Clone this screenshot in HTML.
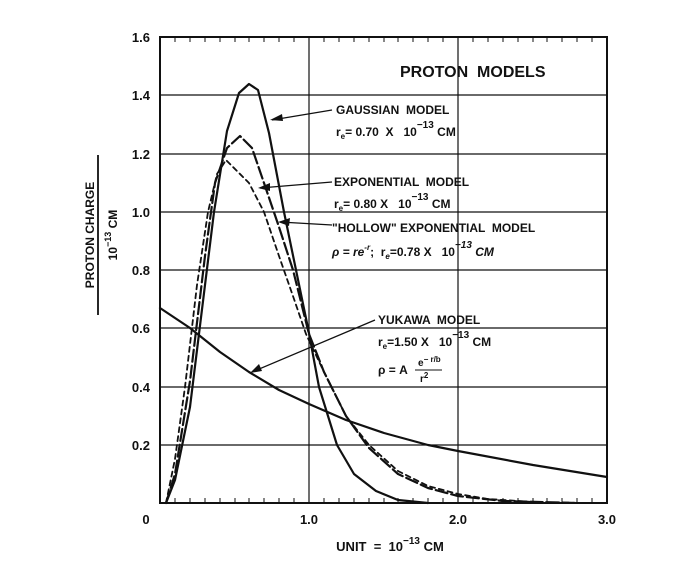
<!DOCTYPE html>
<html><head><meta charset="utf-8"><style>
body{margin:0;background:#fff}
svg{display:block}
text{font-family:"Liberation Sans",sans-serif;font-weight:bold;fill:#111}
</style></head><body>
<svg width="676" height="562" viewBox="0 0 676 562">
<g stroke="#111" fill="none">
<rect x="160" y="37" width="447" height="466" stroke-width="2"/>
<g stroke-width="1.2">
<line x1="160" y1="95" x2="607" y2="95"/>
<line x1="160" y1="154" x2="607" y2="154"/>
<line x1="160" y1="212" x2="607" y2="212"/>
<line x1="160" y1="270" x2="607" y2="270"/>
<line x1="160" y1="328" x2="607" y2="328"/>
<line x1="160" y1="387" x2="607" y2="387"/>
<line x1="160" y1="445" x2="607" y2="445"/>
<line x1="309" y1="37" x2="309" y2="503"/>
<line x1="458" y1="37" x2="458" y2="503"/>
</g>
<path stroke-width="1" d="M175 503v-5M190 503v-5M205 503v-5M220 503v-5M235 503v-5M249 503v-5M264 503v-5M279 503v-5M294 503v-5M324 503v-5M339 503v-5M354 503v-5M369 503v-5M384 503v-5M398 503v-5M413 503v-5M428 503v-5M443 503v-5M473 503v-5M488 503v-5M503 503v-5M518 503v-5M533 503v-5M547 503v-5M562 503v-5M577 503v-5M592 503v-5
M175 37v5M190 37v5M205 37v5M220 37v5M235 37v5M249 37v5M264 37v5M279 37v5M294 37v5M324 37v5M339 37v5M354 37v5M369 37v5M384 37v5M398 37v5M413 37v5M428 37v5M443 37v5M473 37v5M488 37v5M503 37v5M518 37v5M533 37v5M547 37v5M562 37v5M577 37v5M592 37v5"/>
<g stroke-width="2.2" stroke-linejoin="round" stroke-linecap="round">
<polyline points="166,503 175,480 190,407 205,285 214,212 227,131 239,93 249,84 258,90 269,133 284,212 296,270 308,328 319,387 337,445 354,474 376,491 398,500 428,503"/>
<polyline stroke-dasharray="12,4" points="166,503 175,474 190,381 205,256 215,183 227,148 240,136 252,148 264,183 279,227 293,270 309,334 324,372 346,416 369,448 398,474 428,488 458,496 503,501 577,503"/>
<polyline stroke-width="1.8" stroke-dasharray="5,4" points="166,503 175,459 185,387 197,285 208,212 217,174 226,160 237,171 249,183 264,212 279,256 294,299 306,334 324,372 346,416 369,445 398,471 428,486 458,494 488,499 533,502 585,503"/>
<polyline points="160,308 190,328 220,352 249,372 279,390 309,404 346,420 384,433 428,445 458,451 533,465 607,477"/>
</g>
<g stroke-width="1.3">
<line x1="332" y1="110" x2="272" y2="120"/>
<line x1="332" y1="182" x2="260" y2="188"/>
<line x1="332" y1="225" x2="280" y2="222"/>
<line x1="375" y1="320" x2="252" y2="372"/>
</g>
</g>
<g fill="#111">
<polygon points="270,120 282,114 283,121"/>
<polygon points="258,188 270,183 270,191"/>
<polygon points="278,222 290,218 289,226"/>
<polygon points="250,373 259,364 262,371"/>
</g>
<g font-size="13" text-anchor="end">
<text x="150" y="42">1.6</text><text x="150" y="100">1.4</text><text x="150" y="159">1.2</text>
<text x="150" y="217">1.0</text><text x="150" y="275">0.8</text><text x="150" y="333">0.6</text>
<text x="150" y="392">0.4</text><text x="150" y="450">0.2</text>
</g>
<g font-size="13" text-anchor="middle">
<text x="146" y="524">0</text><text x="309" y="524">1.0</text><text x="458" y="524">2.0</text><text x="607" y="524">3.0</text>
<text x="390" y="551">UNIT &#160;= &#160;10<tspan font-size="10" dy="-7">−13</tspan><tspan dy="7"> CM</tspan></text>
</g>
<g transform="translate(98,235) rotate(-90)" font-size="12" text-anchor="middle">
<text x="0" y="-4">PROTON CHARGE</text>
<line x1="-80" y1="0" x2="80" y2="0" stroke="#111" stroke-width="1.8"/>
<text x="0" y="19">10<tspan font-size="9" dy="-6">−13</tspan><tspan dy="6"> CM</tspan></text>
</g>
<g font-size="12">
<text x="400" y="77" font-size="16">PROTON &#160;MODELS</text>
<text x="336" y="114">GAUSSIAN &#160;MODEL</text>
<text x="336" y="136">r<tspan font-size="8" dy="3">e</tspan><tspan dy="-3">= 0.70 &#160;X &#160;&#160;10</tspan><tspan font-size="10" dy="-8">−13</tspan><tspan dy="8"> CM</tspan></text>
<text x="334" y="186">EXPONENTIAL &#160;MODEL</text>
<text x="334" y="208">r<tspan font-size="8" dy="3">e</tspan><tspan dy="-3">= 0.80 X &#160;&#160;10</tspan><tspan font-size="10" dy="-8">−13</tspan><tspan dy="8"> CM</tspan></text>
<text x="332" y="232">"HOLLOW" EXPONENTIAL &#160;MODEL</text>
<text x="332" y="256" font-style="italic">ρ = re<tspan font-size="8" dy="-6">-r</tspan><tspan dy="6" font-style="normal">; &#160;r</tspan><tspan font-size="8" dy="3">e</tspan><tspan dy="-3" font-style="normal">=0.78 X &#160;&#160;10</tspan><tspan font-size="10" dy="-8">−13</tspan><tspan dy="8"> CM</tspan></text>
<text x="378" y="324">YUKAWA &#160;MODEL</text>
<text x="378" y="346">r<tspan font-size="8" dy="3">e</tspan><tspan dy="-3">=1.50 X &#160;&#160;10</tspan><tspan font-size="10" dy="-8">−13</tspan><tspan dy="8"> CM</tspan></text>
<text x="378" y="374">ρ = A</text>
<text x="418" y="366" font-size="10">e<tspan font-size="8" dy="-4">− r/b</tspan></text>
<line x1="415" y1="370" x2="442" y2="370" stroke="#111" stroke-width="1"/>
<text x="420" y="382" font-size="10">r<tspan font-size="8" dy="-4">2</tspan></text>
</g>
</svg>
</body></html>
